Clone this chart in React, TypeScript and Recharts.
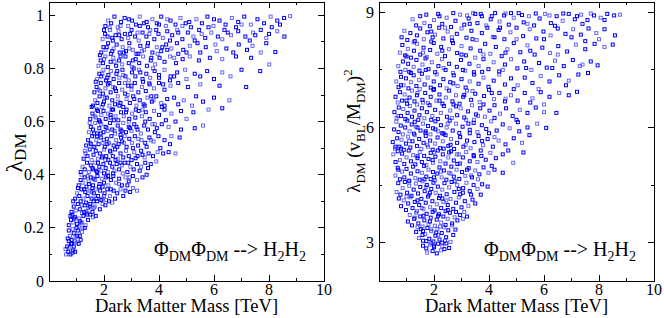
import React from 'react';
import { ScatterChart, Scatter, XAxis, YAxis } from 'recharts';

// mass [TeV] vs lambda_DM
const leftPoints: [number, number][] = [
  [0.62,0.10],[0.7,0.11],[0.78,0.10],[0.85,0.105],[0.95,0.11],[0.66,0.13],[0.74,0.125],[0.83,0.14],[0.9,0.13],[1.0,0.145],[0.72,0.15],[1.08,0.14],[0.6,0.12],[0.88,0.115],
  [0.68,0.16],[0.76,0.17],[0.82,0.155],[0.9,0.18],[0.97,0.165],[1.05,0.19],[1.12,0.17],[1.2,0.185],[1.3,0.2],[0.72,0.19],[0.86,0.195],[1.0,0.2],[1.15,0.155],[0.94,0.15],
  [0.72,0.21],[0.8,0.23],[0.88,0.22],[0.95,0.24],[1.02,0.215],[1.1,0.235],[1.18,0.22],[1.25,0.245],[1.33,0.21],[1.42,0.23],[1.5,0.25],[1.6,0.24],[1.7,0.245],[0.85,0.25],[1.08,0.205],[1.38,0.25],[0.78,0.245],[1.22,0.2],
  [0.82,0.26],[0.9,0.28],[0.97,0.265],[1.05,0.29],[1.12,0.27],[1.2,0.285],[1.28,0.26],[1.35,0.295],[1.43,0.275],[1.5,0.29],[1.58,0.26],[1.66,0.28],[1.75,0.3],[1.85,0.27],[1.95,0.29],[2.05,0.285],[2.18,0.3],[2.3,0.295],[0.88,0.3],[1.15,0.3],[1.4,0.255],[1.62,0.3],
  [0.95,0.31],[1.02,0.33],[1.1,0.32],[1.18,0.345],[1.25,0.31],[1.32,0.335],[1.4,0.32],[1.48,0.34],[1.55,0.31],[1.63,0.33],[1.7,0.345],[1.78,0.32],[1.86,0.34],[1.94,0.31],[2.02,0.33],[2.12,0.345],[2.22,0.32],[2.35,0.34],[2.48,0.33],[2.6,0.345],[2.78,0.34],[2.95,0.335],[3.2,0.34],[1.05,0.35],[1.58,0.35],[2.08,0.305],
  [1.08,0.36],[1.15,0.38],[1.22,0.37],[1.3,0.39],[1.36,0.355],[1.44,0.375],[1.52,0.39],[1.6,0.36],[1.68,0.38],[1.76,0.395],[1.84,0.365],[1.92,0.385],[2.0,0.37],[2.08,0.39],[2.16,0.36],[2.25,0.38],[2.34,0.395],[2.44,0.37],[2.55,0.385],[2.65,0.36],[2.78,0.39],[2.9,0.375],[3.05,0.395],[3.2,0.38],[3.4,0.39],[3.55,0.4],[1.18,0.4],[1.95,0.355],
  [1.15,0.41],[1.22,0.43],[1.3,0.42],[1.38,0.445],[1.45,0.41],[1.52,0.435],[1.6,0.42],[1.68,0.445],[1.75,0.41],[1.83,0.43],[1.9,0.415],[1.98,0.44],[2.06,0.425],[2.14,0.41],[2.22,0.445],[2.3,0.43],[2.38,0.415],[2.46,0.44],[2.55,0.42],[2.65,0.435],[2.75,0.445],[2.85,0.41],[2.96,0.43],[3.08,0.42],[3.2,0.44],[3.35,0.43],[3.5,0.445],[3.7,0.44],[3.9,0.45],[2.0,0.405],
  [1.26,0.46],[1.33,0.48],[1.4,0.47],[1.48,0.495],[1.55,0.455],[1.62,0.475],[1.7,0.49],[1.78,0.46],[1.85,0.48],[1.93,0.465],[2.0,0.495],[2.08,0.47],[2.16,0.455],[2.24,0.485],[2.32,0.47],[2.4,0.495],[2.5,0.46],[2.6,0.48],[2.7,0.465],[2.8,0.49],[2.9,0.47],[3.0,0.455],[3.1,0.485],[3.22,0.47],[3.35,0.49],[3.48,0.465],[3.62,0.48],[3.78,0.47],[3.95,0.485],[4.15,0.48],[4.35,0.485],[4.6,0.48],
  [1.35,0.51],[1.42,0.53],[1.5,0.52],[1.57,0.545],[1.65,0.505],[1.72,0.53],[1.8,0.515],[1.88,0.54],[1.95,0.52],[2.03,0.505],[2.1,0.535],[2.18,0.52],[2.27,0.545],[2.35,0.51],[2.44,0.53],[2.53,0.515],[2.62,0.54],[2.72,0.52],[2.82,0.505],[2.92,0.535],[3.02,0.52],[3.12,0.545],[3.24,0.51],[3.36,0.53],[3.5,0.52],[3.65,0.54],[3.8,0.525],[3.98,0.545],[4.2,0.53],[4.45,0.545],[4.75,0.54],[2.6,0.55],
  [1.45,0.56],[1.52,0.58],[1.6,0.57],[1.68,0.595],[1.75,0.555],[1.83,0.575],[1.9,0.59],[1.98,0.56],[2.06,0.58],[2.14,0.565],[2.22,0.595],[2.3,0.57],[2.4,0.555],[2.5,0.585],[2.6,0.57],[2.7,0.595],[2.8,0.56],[2.9,0.58],[3.0,0.565],[3.1,0.59],[3.22,0.57],[3.34,0.555],[3.46,0.585],[3.6,0.57],[3.76,0.59],[3.92,0.575],[4.1,0.59],[4.35,0.58],[4.8,0.57],[5.3,0.575],[5.6,0.585],
  [1.5,0.61],[1.58,0.63],[1.66,0.62],[1.74,0.645],[1.82,0.605],[1.9,0.625],[1.98,0.64],[2.06,0.61],[2.15,0.63],[2.24,0.615],[2.33,0.645],[2.42,0.62],[2.52,0.605],[2.62,0.635],[2.72,0.62],[2.82,0.645],[2.92,0.61],[3.02,0.63],[3.14,0.615],[3.26,0.64],[3.38,0.62],[3.52,0.635],[3.66,0.61],[3.82,0.64],[4.0,0.625],[4.2,0.645],[4.45,0.63],[4.8,0.64],[5.25,0.635],[5.8,0.645],[6.3,0.65],
  [1.6,0.66],[1.68,0.68],[1.76,0.67],[1.84,0.695],[1.92,0.655],[2.0,0.675],[2.1,0.69],[2.2,0.66],[2.3,0.68],[2.4,0.665],[2.5,0.695],[2.6,0.67],[2.7,0.655],[2.82,0.685],[2.94,0.67],[3.06,0.695],[3.18,0.66],[3.3,0.68],[3.44,0.665],[3.58,0.69],[3.74,0.675],[3.9,0.695],[4.08,0.67],[4.3,0.685],[4.55,0.69],[4.9,0.68],[5.35,0.695],[6.0,0.69],[6.56,0.68],
  [1.65,0.71],[1.73,0.73],[1.8,0.72],[1.88,0.745],[1.96,0.705],[2.05,0.725],[2.14,0.74],[2.24,0.71],[2.34,0.73],[2.44,0.715],[2.55,0.745],[2.66,0.72],[2.77,0.705],[2.88,0.735],[3.0,0.72],[3.12,0.745],[3.25,0.71],[3.38,0.73],[3.52,0.715],[3.66,0.74],[3.82,0.725],[4.0,0.745],[4.2,0.72],[4.42,0.735],[4.7,0.745],[5.05,0.73],[5.5,0.74],[6.2,0.735],[7.17,0.73],
  [1.75,0.76],[1.83,0.78],[1.9,0.77],[1.98,0.795],[2.07,0.755],[2.16,0.775],[2.25,0.79],[2.35,0.76],[2.45,0.78],[2.56,0.765],[2.67,0.795],[2.78,0.77],[2.9,0.755],[3.02,0.785],[3.14,0.77],[3.27,0.795],[3.4,0.76],[3.54,0.78],[3.68,0.765],[3.84,0.79],[4.0,0.775],[4.2,0.795],[4.42,0.77],[4.66,0.785],[4.95,0.795],[5.3,0.78],[5.75,0.79],[6.3,0.785],[7.0,0.795],[7.68,0.79],
  [1.8,0.81],[1.88,0.83],[1.96,0.82],[2.05,0.845],[2.14,0.805],[2.24,0.825],[2.34,0.84],[2.44,0.81],[2.55,0.83],[2.66,0.815],[2.78,0.845],[2.9,0.82],[3.02,0.805],[3.15,0.835],[3.28,0.82],[3.42,0.845],[3.56,0.81],[3.7,0.83],[3.86,0.815],[4.02,0.84],[4.2,0.825],[4.4,0.845],[4.62,0.82],[4.86,0.835],[5.12,0.845],[5.45,0.83],[5.85,0.84],[6.3,0.835],[6.8,0.845],[7.35,0.84],[8.01,0.815],
  [1.9,0.86],[1.98,0.88],[2.06,0.87],[2.15,0.895],[2.25,0.855],[2.35,0.875],[2.46,0.89],[2.57,0.86],[2.68,0.88],[2.8,0.865],[2.92,0.895],[3.05,0.87],[3.18,0.855],[3.32,0.885],[3.46,0.87],[3.6,0.895],[3.76,0.86],[3.92,0.88],[4.08,0.865],[4.26,0.89],[4.45,0.875],[4.65,0.895],[4.88,0.87],[5.12,0.885],[5.4,0.895],[5.7,0.88],[6.05,0.89],[6.45,0.875],[6.9,0.89],[7.4,0.885],[7.9,0.895],[8.23,0.862],
  [1.95,0.91],[2.04,0.93],[2.13,0.92],[2.22,0.945],[2.32,0.905],[2.42,0.925],[2.53,0.94],[2.64,0.91],[2.76,0.93],[2.88,0.915],[3.0,0.945],[3.13,0.92],[3.26,0.905],[3.4,0.935],[3.54,0.92],[3.68,0.945],[3.83,0.91],[3.98,0.93],[4.14,0.915],[4.3,0.94],[4.48,0.925],[4.66,0.945],[4.85,0.91],[5.05,0.935],[5.25,0.92],[5.46,0.945],[5.68,0.915],[5.9,0.935],[6.14,0.92],[6.38,0.945],[6.62,0.925],[6.88,0.94],[7.14,0.92],[7.42,0.935],[7.7,0.945],[8.0,0.93],[8.3,0.94],[8.56,0.92],
  [2.05,0.96],[2.15,0.98],[2.26,0.97],[2.38,0.995],[2.5,0.955],[2.62,0.975],[2.75,0.99],[2.88,0.96],[3.02,0.98],[3.16,0.965],[3.3,0.995],[3.45,0.97],[3.6,0.955],[3.76,0.985],[3.92,0.97],[4.08,0.995],[4.25,0.96],[4.42,0.98],[4.6,0.965],[4.78,0.99],[4.97,0.97],[5.16,0.955],[5.36,0.985],[5.56,0.97],[5.76,0.995],[5.98,0.96],[6.2,0.98],[6.42,0.965],[6.65,0.99],[6.88,0.975],[7.1,0.995],[7.34,0.965],[7.58,0.985],[7.82,0.97],[8.06,0.995],[8.3,0.98],[8.55,0.99],[8.77,0.997],
  [1.45,0.365],[1.72,0.415],[1.95,0.47],[2.15,0.395],[2.42,0.455],[2.68,0.405],[2.88,0.445],[3.15,0.462],[1.55,0.335],[1.82,0.355],[2.25,0.345],[2.55,0.365],[2.85,0.36],[1.3,0.285],[1.62,0.275],[1.9,0.305],[1.12,0.225],[1.35,0.262],[1.03,0.17],[0.8,0.14],
  [1.62,0.505],[1.88,0.555],[2.12,0.515],[2.38,0.565],[2.66,0.525],[2.95,0.575],[3.25,0.535],[3.55,0.505],[3.85,0.56],
  [1.7,0.615],[1.96,0.665],[2.24,0.625],[2.52,0.675],[2.8,0.635],[3.1,0.685],[3.4,0.645],[3.72,0.695],[4.1,0.655],
  [1.86,0.715],[2.12,0.765],[2.4,0.725],[2.7,0.775],[3.0,0.735],[3.32,0.785],[3.64,0.745],[4.0,0.765],[4.4,0.755],
  [2.0,0.835],[2.3,0.865],[2.6,0.845],[2.92,0.875],[3.25,0.855],[3.58,0.885],[3.95,0.855],[4.3,0.87],[4.7,0.855],
  [2.2,0.955],[2.55,0.925],[2.9,0.985],[3.22,0.935],[3.55,0.975],[3.9,0.945],[4.3,0.985],[4.7,0.935],[5.1,0.975],[5.55,0.93],[6.0,0.985],[6.5,0.935],[7.0,0.965],[7.5,0.925],[8.1,0.955],
  [1.4,0.395],[1.58,0.425],[1.78,0.445],[2.05,0.455],[2.33,0.405],[2.6,0.445],[2.93,0.39],[3.3,0.415],[3.6,0.425],
  [1.3,0.49],[1.52,0.515],[1.75,0.545],[2.0,0.53],[2.22,0.49],[2.48,0.505],[2.75,0.545],[3.05,0.5],[3.4,0.475],[3.7,0.53],[4.05,0.5],[4.4,0.515],
  [1.48,0.595],[1.64,0.555],[1.85,0.6],[2.1,0.575],[2.36,0.605],[2.64,0.565],[2.9,0.6],[3.18,0.58],[3.5,0.6],[3.85,0.59],[4.25,0.605],[4.6,0.6],[5.0,0.61],
  [1.55,0.655],[1.78,0.64],[2.03,0.69],[2.28,0.645],[2.56,0.66],[2.86,0.7],[3.16,0.645],[3.48,0.66],[3.8,0.68],[4.2,0.66],[4.7,0.665],[5.2,0.66],[5.6,0.675],
  [1.7,0.75],[1.94,0.78],[2.2,0.745],[2.48,0.79],[2.76,0.745],[3.08,0.8],[3.42,0.75],[3.78,0.8],[4.15,0.74],[4.55,0.77],[5.0,0.76],[5.5,0.77],[6.0,0.76],[6.6,0.77],
  [1.85,0.85],[2.1,0.88],[2.38,0.825],[2.72,0.86],[3.05,0.83],[3.38,0.865],[3.72,0.84],[4.12,0.88],[4.55,0.84],[5.0,0.86],[5.5,0.86],[6.1,0.865],[6.7,0.86],[7.2,0.87],[7.7,0.86],
  [2.0,0.945],[2.3,0.915],[2.6,0.96],[2.95,0.93],[3.3,0.96],[3.65,0.93],[4.0,0.965],[4.4,0.905],[4.85,0.96],[5.3,0.905],[5.8,0.955],[6.3,0.91],[6.8,0.955],[7.3,0.905],[7.9,0.915],[8.4,0.965],
  [0.92,0.235],[1.2,0.255],[1.48,0.28],[1.72,0.31],[2.0,0.32],[2.4,0.31],[2.7,0.32],[3.05,0.35],[1.28,0.345],[1.62,0.385],
];

// mass [TeV] vs lambda_DM (v_BL/M_DM)^2
const rightPoints: [number, number][] = [
  [1.75,2.74],[1.95,2.78],[2.1,2.72],[2.25,2.8],[1.6,2.92],[1.72,2.85],[1.85,2.95],[2.0,2.88],[2.15,2.97],[2.3,2.9],[2.45,2.98],[2.55,2.86],[1.9,2.99],[2.38,2.83],
  [1.35,3.28],[1.45,3.12],[1.52,3.35],[1.6,3.05],[1.68,3.22],[1.76,3.38],[1.83,3.1],[1.9,3.3],[1.98,3.03],[2.05,3.18],[2.12,3.36],[2.2,3.08],[2.28,3.25],[2.36,3.4],[2.44,3.14],[2.52,3.32],[2.6,3.02],[2.7,3.2],[2.78,3.34],[1.4,3.4],[1.58,3.2],[2.08,3.26],[2.4,3.05],[1.72,3.04],
  [1.05,3.55],[1.12,3.72],[1.2,3.45],[1.28,3.62],[1.35,3.78],[1.43,3.5],[1.5,3.68],[1.58,3.42],[1.65,3.58],[1.73,3.75],[1.8,3.48],[1.88,3.65],[1.95,3.8],[2.03,3.44],[2.1,3.6],[2.18,3.74],[2.26,3.52],[2.34,3.68],[2.42,3.46],[2.5,3.62],[2.58,3.78],[2.66,3.5],[2.75,3.66],[2.85,3.58],[2.95,3.72],[3.05,3.62],[3.2,3.68],[1.62,3.7],[2.22,3.42],
  [0.72,4.15],[0.8,3.95],[0.9,4.1],[0.98,3.85],[1.06,4.02],[1.14,4.18],[1.22,3.9],[1.3,4.06],[1.38,3.82],[1.46,3.98],[1.54,4.14],[1.62,3.88],[1.7,4.04],[1.78,4.2],[1.86,3.92],[1.94,4.08],[2.02,3.84],[2.1,4.0],[2.18,4.16],[2.26,3.9],[2.34,4.06],[2.42,3.82],[2.5,3.98],[2.6,4.14],[2.7,3.88],[2.8,4.04],[2.9,4.18],[3.0,3.92],[3.12,4.08],[3.25,3.96],[3.4,4.12],[3.5,4.02],
  [0.64,4.32],[0.7,4.55],[0.78,4.25],[0.86,4.42],[0.94,4.58],[1.02,4.3],[1.1,4.48],[1.18,4.22],[1.26,4.38],[1.34,4.54],[1.42,4.28],[1.5,4.45],[1.58,4.6],[1.66,4.34],[1.74,4.5],[1.82,4.24],[1.9,4.4],[1.98,4.56],[2.06,4.3],[2.14,4.46],[2.22,4.22],[2.3,4.38],[2.38,4.55],[2.46,4.26],[2.55,4.44],[2.64,4.58],[2.74,4.32],[2.84,4.5],[2.95,4.26],[3.06,4.42],[3.18,4.56],[3.3,4.34],[3.44,4.5],[3.58,4.4],[3.75,4.52],[3.95,4.46],
  [0.6,4.75],[0.68,4.95],[0.76,4.65],[0.84,4.85],[0.92,4.7],[1.0,4.92],[1.08,4.62],[1.16,4.8],[1.24,4.98],[1.32,4.68],[1.4,4.86],[1.48,4.64],[1.56,4.82],[1.64,5.0],[1.72,4.72],[1.8,4.9],[1.88,4.66],[1.96,4.84],[2.04,4.62],[2.12,4.8],[2.2,4.96],[2.28,4.7],[2.36,4.88],[2.45,4.64],[2.54,4.82],[2.63,4.98],[2.72,4.72],[2.82,4.9],[2.92,4.66],[3.02,4.84],[3.14,4.74],[3.26,4.94],[3.38,4.7],[3.5,4.88],[3.65,4.78],[3.8,4.96],[3.98,4.82],[4.2,4.9],[4.5,4.82],
  [0.52,5.3],[0.6,5.1],[0.68,5.38],[0.76,5.15],[0.84,5.32],[0.92,5.05],[1.0,5.22],[1.08,5.4],[1.16,5.12],[1.24,5.28],[1.32,5.04],[1.4,5.2],[1.48,5.36],[1.56,5.1],[1.64,5.26],[1.72,5.02],[1.8,5.18],[1.88,5.34],[1.96,5.08],[2.05,5.24],[2.14,5.4],[2.23,5.12],[2.32,5.3],[2.42,5.06],[2.52,5.22],[2.62,5.38],[2.72,5.14],[2.83,5.3],[2.94,5.06],[3.05,5.22],[3.17,5.36],[3.3,5.12],[3.44,5.28],[3.58,5.1],[3.72,5.26],[3.88,5.16],[4.05,5.34],[4.25,5.2],[4.5,5.3],[4.88,5.08],[5.25,5.35],
  [0.5,5.62],[0.58,5.45],[0.66,5.72],[0.74,5.5],[0.82,5.68],[0.9,5.42],[0.98,5.58],[1.06,5.76],[1.14,5.48],[1.22,5.64],[1.3,5.8],[1.38,5.52],[1.46,5.7],[1.54,5.44],[1.62,5.6],[1.7,5.78],[1.78,5.5],[1.86,5.66],[1.95,5.42],[2.04,5.58],[2.13,5.74],[2.22,5.46],[2.32,5.64],[2.42,5.8],[2.52,5.52],[2.62,5.7],[2.73,5.44],[2.84,5.6],[2.95,5.76],[3.07,5.5],[3.2,5.66],[3.33,5.46],[3.47,5.62],[3.62,5.78],[3.78,5.54],[3.95,5.7],[4.14,5.5],[4.35,5.66],[4.6,5.56],[4.9,5.72],[5.2,5.6],[5.47,5.8],
  [0.55,5.95],[0.63,6.15],[0.71,5.88],[0.79,6.05],[0.87,5.82],[0.95,6.0],[1.03,6.18],[1.11,5.9],[1.19,6.08],[1.27,5.84],[1.35,6.02],[1.43,6.2],[1.51,5.92],[1.6,6.1],[1.69,5.86],[1.78,6.04],[1.87,5.82],[1.96,5.98],[2.05,6.16],[2.15,5.9],[2.25,6.06],[2.35,5.84],[2.46,6.0],[2.57,6.18],[2.68,5.92],[2.8,6.1],[2.92,5.86],[3.04,6.02],[3.17,6.2],[3.3,5.94],[3.44,6.12],[3.58,5.88],[3.74,6.06],[3.9,5.96],[4.08,6.16],[4.28,5.92],[4.5,6.08],[4.75,5.98],[5.05,6.14],[5.4,6.0],[5.75,6.1],[6.08,5.99],
  [0.56,6.4],[0.64,6.25],[0.72,6.52],[0.8,6.3],[0.88,6.48],[0.96,6.22],[1.04,6.38],[1.12,6.56],[1.2,6.28],[1.29,6.44],[1.38,6.6],[1.47,6.32],[1.56,6.5],[1.65,6.24],[1.74,6.4],[1.84,6.58],[1.94,6.3],[2.04,6.46],[2.14,6.22],[2.25,6.38],[2.36,6.56],[2.47,6.28],[2.59,6.44],[2.71,6.6],[2.84,6.32],[2.97,6.5],[3.1,6.26],[3.24,6.42],[3.38,6.58],[3.53,6.34],[3.68,6.5],[3.85,6.28],[4.02,6.44],[4.2,6.58],[4.4,6.36],[4.62,6.5],[4.86,6.3],[5.12,6.46],[5.4,6.38],[5.7,6.52],[6.0,6.4],[6.45,6.38],
  [0.6,6.8],[0.68,6.65],[0.76,6.92],[0.84,6.7],[0.93,6.86],[1.02,6.62],[1.11,6.78],[1.2,6.96],[1.29,6.68],[1.38,6.84],[1.48,7.0],[1.58,6.72],[1.68,6.9],[1.78,6.64],[1.88,6.8],[1.98,6.98],[2.09,6.7],[2.2,6.86],[2.31,6.62],[2.43,6.78],[2.55,6.96],[2.67,6.68],[2.8,6.84],[2.93,6.62],[3.06,6.8],[3.2,6.96],[3.35,6.72],[3.5,6.88],[3.66,6.66],[3.82,6.82],[4.0,6.98],[4.18,6.74],[4.38,6.9],[4.58,6.68],[4.8,6.84],[5.04,6.7],[5.3,6.9],[5.58,6.76],[5.88,6.92],[6.2,6.8],[6.55,6.9],[6.9,6.84],[7.2,6.93],
  [0.63,7.2],[0.71,7.05],[0.8,7.32],[0.89,7.1],[0.98,7.28],[1.07,7.02],[1.16,7.18],[1.26,7.36],[1.36,7.08],[1.46,7.24],[1.56,7.4],[1.66,7.12],[1.77,7.3],[1.88,7.04],[1.99,7.2],[2.1,7.38],[2.22,7.1],[2.34,7.26],[2.46,7.02],[2.59,7.18],[2.72,7.36],[2.86,7.08],[3.0,7.26],[3.15,7.04],[3.3,7.2],[3.46,7.38],[3.62,7.14],[3.8,7.3],[3.98,7.06],[4.17,7.22],[4.37,7.38],[4.58,7.12],[4.8,7.28],[5.04,7.1],[5.3,7.3],[5.58,7.16],[5.88,7.34],[6.2,7.2],[6.55,7.36],[6.9,7.22],[7.25,7.38],[7.6,7.42],
  [0.7,7.6],[0.78,7.45],[0.87,7.72],[0.96,7.5],[1.06,7.66],[1.16,7.42],[1.26,7.58],[1.36,7.76],[1.47,7.48],[1.58,7.64],[1.69,7.8],[1.8,7.52],[1.92,7.7],[2.04,7.44],[2.16,7.6],[2.29,7.78],[2.42,7.5],[2.55,7.66],[2.69,7.42],[2.83,7.58],[2.98,7.76],[3.13,7.48],[3.29,7.66],[3.45,7.44],[3.62,7.6],[3.8,7.78],[3.98,7.52],[4.17,7.7],[4.37,7.46],[4.58,7.64],[4.8,7.78],[5.03,7.54],[5.28,7.72],[5.54,7.5],[5.82,7.68],[6.1,7.56],[6.4,7.74],[6.72,7.6],[7.05,7.76],[7.4,7.64],[7.7,7.72],[7.95,7.62],
  [0.76,7.95],[0.85,8.15],[0.95,7.88],[1.05,8.05],[1.16,7.82],[1.27,8.0],[1.38,8.18],[1.5,7.9],[1.62,8.08],[1.74,7.84],[1.86,8.02],[1.99,8.2],[2.12,7.92],[2.26,8.1],[2.4,7.86],[2.54,8.04],[2.69,8.2],[2.84,7.94],[3.0,8.12],[3.16,7.88],[3.33,8.06],[3.5,7.82],[3.68,8.0],[3.86,8.18],[4.05,7.92],[4.25,8.1],[4.46,7.86],[4.67,8.04],[4.9,8.2],[5.14,7.96],[5.4,8.14],[5.66,7.9],[5.94,8.08],[6.22,7.94],[6.52,8.12],[6.84,7.98],[7.16,8.16],[7.5,8.04],[7.84,8.18],[8.2,8.1],[8.5,8.16],
  [0.82,8.35],[0.92,8.52],[1.03,8.28],[1.14,8.46],[1.26,8.22],[1.38,8.4],[1.5,8.58],[1.63,8.3],[1.76,8.48],[1.9,8.24],[2.04,8.42],[2.19,8.6],[2.34,8.32],[2.5,8.5],[2.66,8.26],[2.83,8.44],[3.0,8.58],[3.18,8.34],[3.36,8.52],[3.55,8.28],[3.74,8.46],[3.94,8.6],[4.14,8.36],[4.35,8.54],[4.56,8.3],[4.78,8.48],[5.0,8.6],[5.24,8.38],[5.48,8.56],[5.72,8.32],[5.98,8.5],[6.24,8.4],[6.5,8.58],[6.78,8.44],[7.06,8.56],[7.34,8.42],[7.62,8.58],[7.9,8.46],[8.2,8.56],[8.58,8.4],
  [1.22,8.82],[1.35,8.66],[1.5,8.9],[1.65,8.72],[1.72,8.94],[1.85,8.64],[2.0,8.8],[2.15,8.96],[2.3,8.7],[2.46,8.86],[2.62,8.62],[2.78,8.78],[2.95,8.94],[3.1,8.68],[3.26,8.84],[3.42,8.98],[3.58,8.72],[3.74,8.9],[3.9,8.66],[4.06,8.82],[4.22,8.98],[4.38,8.76],[4.55,8.92],[4.72,8.68],[4.9,8.86],[5.08,8.98],[5.26,8.74],[5.45,8.9],[5.64,8.66],[5.84,8.84],[6.04,8.96],[6.25,8.72],[6.46,8.9],[6.68,8.78],[6.9,8.96],[7.12,8.82],[7.35,8.94],[7.58,8.8],[7.82,8.92],[8.06,8.86],[8.3,8.96],[8.55,8.92],[8.76,8.94],[3.5,8.96],[4.8,8.98],
  [1.55,3.9],[1.85,4.3],[2.15,3.7],[2.45,4.1],[2.75,4.6],[3.05,4.3],[3.35,4.75],[1.65,4.65],[1.95,5.15],[2.25,4.85],[2.55,5.35],[2.85,5.05],[3.15,5.55],[3.45,5.25],[3.75,5.65],[1.75,5.55],[2.05,5.95],[2.35,5.45],[2.65,6.25],[2.95,5.75],[3.25,6.1],[3.6,6.3],[4.0,5.85],[1.4,6.0],[1.9,3.35],[2.3,3.0],[2.0,2.92],[2.65,3.45],
  [1.1,4.6],[1.4,4.1],[1.7,4.45],[2.0,4.7],[2.3,4.15],[2.6,4.8],[2.9,4.4],[3.2,4.9],[3.6,4.65],[4.1,5.0],
  [0.8,5.45],[1.1,5.65],[1.4,5.25],[1.7,5.9],[2.0,5.35],[2.3,5.85],[2.6,5.55],[2.9,5.3],[3.3,5.85],[3.7,5.4],[4.2,5.75],[4.7,5.4],[5.1,5.9],
  [0.7,6.3],[1.0,6.7],[1.3,6.15],[1.6,6.65],[1.9,6.2],[2.2,6.7],[2.5,6.1],[2.8,6.55],[3.1,6.85],[3.45,6.2],[3.8,6.6],[4.2,6.25],[4.6,6.75],[5.0,6.2],[5.5,6.65],[6.0,6.6],
  [0.8,7.1],[1.1,7.45],[1.4,6.9],[1.7,7.5],[2.0,7.0],[2.35,7.55],[2.7,7.15],[3.05,7.5],[3.4,6.95],[3.75,7.45],[4.1,6.9],[4.5,7.5],[4.9,7.0],[5.35,7.55],[5.8,7.0],[6.3,7.55],[6.8,7.1],[7.3,7.6],
  [1.0,7.85],[1.3,8.25],[1.6,7.95],[1.95,8.35],[2.3,8.0],[2.65,8.35],[3.0,7.9],[3.4,8.3],[3.8,7.9],[4.2,8.35],[4.6,7.95],[5.0,8.3],[5.5,8.0],[6.0,8.3],[6.5,7.9],[7.0,8.35],[7.5,8.25],[8.0,8.3],
  [2.2,8.9],[2.7,8.98],[3.2,8.92],[3.7,8.96],[4.1,8.9],[4.6,8.97],[5.2,8.93],[5.7,8.97],[6.2,8.92],[6.7,8.97],[7.2,8.9],[7.7,8.97],[8.2,8.8],[1.9,8.5],[2.4,8.6],[3.3,8.7],[4.4,8.6],[5.4,8.7],[6.4,8.65],[7.4,8.7],
  [1.3,3.65],[1.6,3.3],[1.85,3.55],[2.15,3.2],[2.5,3.85],[2.8,3.8],[3.1,3.8],[3.35,4.25],[3.7,4.25],[1.0,4.2],[0.7,4.9],[0.6,5.5],
];

const xTicks = [0, 1, 2, 3, 4, 5, 6, 7, 8, 9, 10];
const xMajor = [0, 2, 4, 6, 8, 10];
const xLabels = [2, 4, 6, 8, 10];

const leftYTicks = [0, 0.1, 0.2, 0.3, 0.4, 0.5, 0.6, 0.7, 0.8, 0.9, 1];
const leftYMajor = [0, 0.2, 0.4, 0.6, 0.8, 1];
const leftYLabels = [0, 0.2, 0.4, 0.6, 0.8, 1];

const rightYTicks = [3, 4.5, 6, 7.5, 9];
const rightYMajor = [3, 6, 9];
const rightYLabels = [3, 6, 9];

const FONT = '"Liberation Serif", "Times New Roman", serif';
const BLUE = '#0000ff';
const CHART_W = 332;
const CHART_H = 318;
const TOP = 2;
const X_AXIS_H = 37;
const X_DOMAIN = [0, 10];

// axis labels only; the frame and the inward tick marks are drawn by Frame below
function xTick(labels: number[]) {
  return (p: any) => {
    const v = p.payload.value;
    if (!labels.includes(v)) return <g />;
    return <text x={p.x} y={p.y + 13.5} textAnchor="middle" fontSize={16} fontFamily={FONT} fill="#000">{v}</text>;
  };
}

function yTick(labels: number[]) {
  return (p: any) => {
    const v = p.payload.value;
    if (!labels.includes(v)) return <g />;
    return <text x={p.x - 5} y={p.y + 5.5} textAnchor="end" fontSize={16} fontFamily={FONT} fill="#000">{v}</text>;
  };
}

const square = (p: any) => (
  <rect
    x={p.cx - 1.5}
    y={p.cy - 1.5}
    width={3}
    height={3}
    fill="none"
    stroke={BLUE}
    strokeWidth={1}
    strokeOpacity={(p.index ?? 0) % 3 === 0 ? 0.6 : 1}
  />
);

function annotation(right: number) {
  return (
    <text x={right} y={256} textAnchor="end" fontSize={20} fontFamily={FONT} fill="#000" style={{ whiteSpace: 'pre' }}>
      <tspan>Φ</tspan>
      <tspan dy={5} fontSize={14}>DM</tspan>
      <tspan dy={-5}>Φ</tspan>
      <tspan dy={5} fontSize={14}>DM</tspan>
      <tspan dy={-5}> {'-->'} H</tspan>
      <tspan dy={5} fontSize={14}>2</tspan>
      <tspan dy={-5}>H</tspan>
      <tspan dy={5} fontSize={14}>2</tspan>
    </text>
  );
}

const leftYTitle = (
  <text x={22} y={153} textAnchor="middle" fontSize={24} fontFamily={FONT} fill="#000" transform="rotate(-90 22 153)">
    <tspan>λ</tspan>
    <tspan dy={4} fontSize={17}>DM</tspan>
  </text>
);

const rightYTitle = (
  <text x={28} y={131} textAnchor="middle" fontSize={19} fontFamily={FONT} fill="#000" transform="rotate(-90 28 131)" style={{ whiteSpace: 'pre' }}>
    <tspan>λ</tspan>
    <tspan dy={5} fontSize={13}>DM</tspan>
    <tspan dy={-5}> (v</tspan>
    <tspan dy={5} fontSize={13}>BL</tspan>
    <tspan dy={-5}>/M</tspan>
    <tspan dy={5} fontSize={13}>DM</tspan>
    <tspan dy={-5}>)</tspan>
    <tspan dy={-8} fontSize={13}>2</tspan>
  </text>
);

// box with inward ticks on all four sides, on the same plot box the chart uses
function Frame({ ox, yWidth, rightMargin, yDomain, yTicks, yMajor }: any) {
  const L = ox + yWidth;
  const R = ox + CHART_W - rightMargin;
  const T = TOP;
  const B = CHART_H - X_AXIS_H;
  const sx = (v: number) => L + ((v - X_DOMAIN[0]) / (X_DOMAIN[1] - X_DOMAIN[0])) * (R - L);
  const sy = (v: number) => B - ((v - yDomain[0]) / (yDomain[1] - yDomain[0])) * (B - T);
  return (
    <g stroke="#000" strokeWidth={1} fill="none" shapeRendering="crispEdges">
      <rect x={L} y={T} width={R - L} height={B - T} />
      {xTicks.map((v) => {
        const len = xMajor.includes(v) ? 6 : 3;
        const x = sx(v);
        return (
          <g key={`x${v}`}>
            <line x1={x} y1={B} x2={x} y2={B - len} />
            <line x1={x} y1={T} x2={x} y2={T + len} />
          </g>
        );
      })}
      {yTicks.map((v: number) => {
        const len = yMajor.includes(v) ? 6 : 3;
        const y = sy(v);
        return (
          <g key={`y${v}`}>
            <line x1={L} y1={y} x2={L + len} y2={y} />
            <line x1={R} y1={y} x2={R - len} y2={y} />
          </g>
        );
      })}
    </g>
  );
}

function Panel({ points, yDomain, yTicks, yLabels, yWidth, rightMargin, yTitle }: any) {
  const data = points.map(([m, v]: [number, number]) => ({ m, v }));
  const rightEdge = CHART_W - rightMargin;
  const xTitle = (
    <text x={(yWidth + rightEdge) / 2} y={311.5} textAnchor="middle" fontSize={18.5} fontFamily={FONT} fill="#000">
      Dark Matter Mass [TeV]
    </text>
  );
  return (
    <ScatterChart width={CHART_W} height={CHART_H} margin={{ top: TOP, right: rightMargin, bottom: 0, left: 0 }}>
      <XAxis type="number" dataKey="m" domain={X_DOMAIN} ticks={xTicks} interval={0}
        height={X_AXIS_H} tickSize={0} tickMargin={0} axisLine={false} tickLine={false} tick={xTick(xLabels)}
        label={{ content: () => xTitle }} />
      <YAxis type="number" dataKey="v" domain={yDomain} ticks={yTicks} interval={0}
        width={yWidth} tickSize={0} tickMargin={0} axisLine={false} tickLine={false} tick={yTick(yLabels)}
        label={{ content: () => <g>{yTitle}{annotation(rightEdge - 18)}</g> }} />
      <Scatter data={data} shape={square} isAnimationActive={false} />
    </ScatterChart>
  );
}

const LEFT_DOMAIN = [0, 1.05];
const RIGHT_DOMAIN = [2, 9.27];

export default function App() {
  return (
    <div style={{ position: 'absolute', left: 0, top: 0, width: 664, height: 318, background: '#fff', fontFamily: FONT }}>
      <div style={{ display: 'flex' }}>
        <Panel points={leftPoints} yDomain={LEFT_DOMAIN} yTicks={leftYTicks} yLabels={leftYLabels}
          yWidth={49} rightMargin={8} yTitle={leftYTitle} />
        <Panel points={rightPoints} yDomain={RIGHT_DOMAIN} yTicks={rightYTicks} yLabels={rightYLabels}
          yWidth={47} rightMargin={10} yTitle={rightYTitle} />
      </div>
      <svg width={664} height={318} style={{ position: 'absolute', left: 0, top: 0, pointerEvents: 'none' }}>
        <Frame ox={0} yWidth={49} rightMargin={8} yDomain={LEFT_DOMAIN} yTicks={leftYTicks} yMajor={leftYMajor} />
        <Frame ox={CHART_W} yWidth={47} rightMargin={10} yDomain={RIGHT_DOMAIN} yTicks={rightYTicks} yMajor={rightYMajor} />
      </svg>
    </div>
  );
}
